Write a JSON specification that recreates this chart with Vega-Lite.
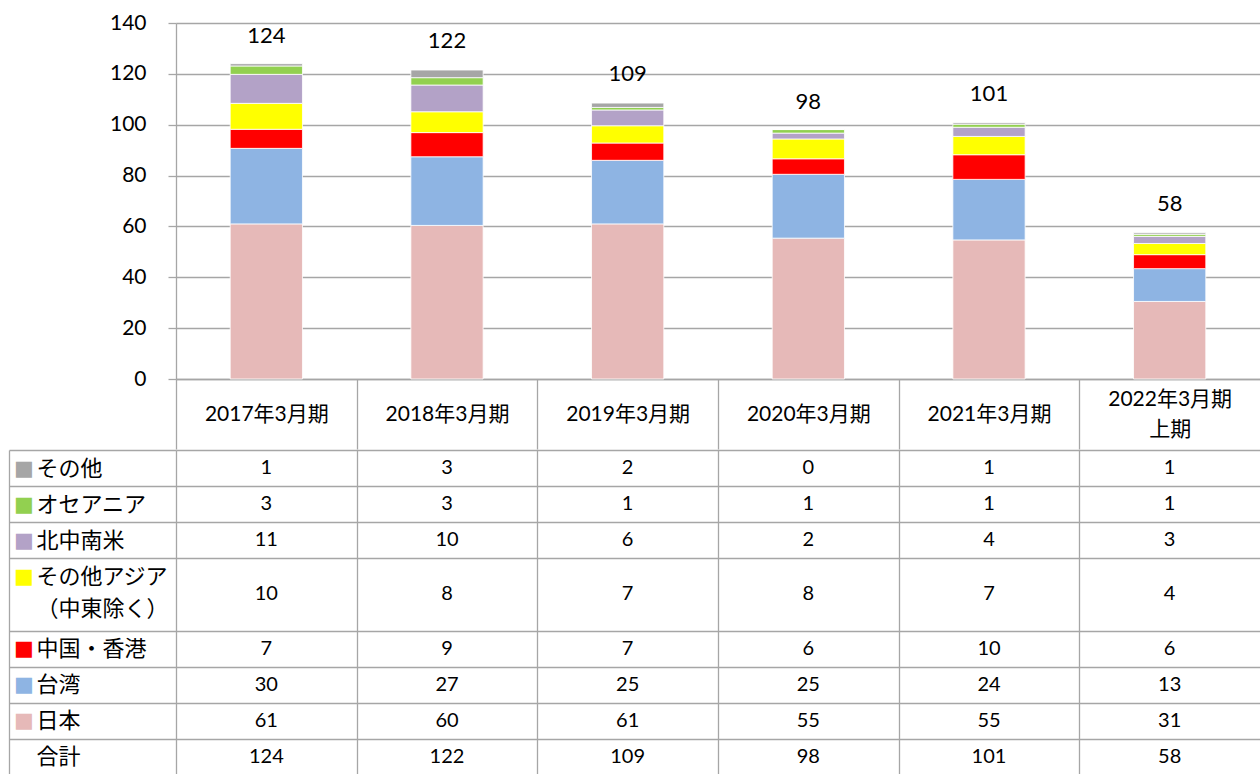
{
  "$schema": "https://vega.github.io/schema/vega-lite/v6.json",
  "background": "white",
  "padding": {"left": 8, "top": 12, "right": 0, "bottom": 0},
  "config": {
    "view": {"stroke": null},
    "axis": {
      "labelColor": "#000000",
      "labelFont": "Lato, Noto Sans CJK JP",
      "domainColor": "#a6a6a6",
      "tickColor": "#a6a6a6",
      "gridColor": "#a6a6a6",
      "domainWidth": 1.3,
      "tickWidth": 1.3,
      "gridWidth": 1.3
    },
    "text": {"font": "Lato, Noto Sans CJK JP", "fontSize": 20, "color": "#000000"}
  },
  "datasets": {
    "seg": [
      {"period": "2017年3月期", "region": "日本", "ord": 1, "bar": 61.0, "shown": 61},
      {"period": "2017年3月期", "region": "台湾", "ord": 2, "bar": 29.7, "shown": 30},
      {"period": "2017年3月期", "region": "中国・香港", "ord": 3, "bar": 7.5, "shown": 7},
      {"period": "2017年3月期", "region": "その他アジア", "ord": 4, "bar": 10.2, "shown": 10},
      {"period": "2017年3月期", "region": "北中南米", "ord": 5, "bar": 11.4, "shown": 11},
      {"period": "2017年3月期", "region": "オセアニア", "ord": 6, "bar": 3.3, "shown": 3},
      {"period": "2017年3月期", "region": "その他", "ord": 7, "bar": 0.9, "shown": 1},
      {"period": "2018年3月期", "region": "日本", "ord": 1, "bar": 60.4, "shown": 60},
      {"period": "2018年3月期", "region": "台湾", "ord": 2, "bar": 27.0, "shown": 27},
      {"period": "2018年3月期", "region": "中国・香港", "ord": 3, "bar": 9.5, "shown": 9},
      {"period": "2018年3月期", "region": "その他アジア", "ord": 4, "bar": 8.2, "shown": 8},
      {"period": "2018年3月期", "region": "北中南米", "ord": 5, "bar": 10.5, "shown": 10},
      {"period": "2018年3月期", "region": "オセアニア", "ord": 6, "bar": 2.9, "shown": 3},
      {"period": "2018年3月期", "region": "その他", "ord": 7, "bar": 3.0, "shown": 3},
      {"period": "2019年3月期", "region": "日本", "ord": 1, "bar": 61.0, "shown": 61},
      {"period": "2019年3月期", "region": "台湾", "ord": 2, "bar": 25.0, "shown": 25},
      {"period": "2019年3月期", "region": "中国・香港", "ord": 3, "bar": 6.8, "shown": 7},
      {"period": "2019年3月期", "region": "その他アジア", "ord": 4, "bar": 6.8, "shown": 7},
      {"period": "2019年3月期", "region": "北中南米", "ord": 5, "bar": 6.2, "shown": 6},
      {"period": "2019年3月期", "region": "オセアニア", "ord": 6, "bar": 1.0, "shown": 1},
      {"period": "2019年3月期", "region": "その他", "ord": 7, "bar": 1.7, "shown": 2},
      {"period": "2020年3月期", "region": "日本", "ord": 1, "bar": 55.4, "shown": 55},
      {"period": "2020年3月期", "region": "台湾", "ord": 2, "bar": 25.1, "shown": 25},
      {"period": "2020年3月期", "region": "中国・香港", "ord": 3, "bar": 6.1, "shown": 6},
      {"period": "2020年3月期", "region": "その他アジア", "ord": 4, "bar": 7.8, "shown": 8},
      {"period": "2020年3月期", "region": "北中南米", "ord": 5, "bar": 2.3, "shown": 2},
      {"period": "2020年3月期", "region": "オセアニア", "ord": 6, "bar": 1.4, "shown": 1},
      {"period": "2020年3月期", "region": "その他", "ord": 7, "bar": 0.0, "shown": 0},
      {"period": "2021年3月期", "region": "日本", "ord": 1, "bar": 54.7, "shown": 55},
      {"period": "2021年3月期", "region": "台湾", "ord": 2, "bar": 23.8, "shown": 24},
      {"period": "2021年3月期", "region": "中国・香港", "ord": 3, "bar": 9.7, "shown": 10},
      {"period": "2021年3月期", "region": "その他アジア", "ord": 4, "bar": 7.2, "shown": 7},
      {"period": "2021年3月期", "region": "北中南米", "ord": 5, "bar": 3.6, "shown": 4},
      {"period": "2021年3月期", "region": "オセアニア", "ord": 6, "bar": 1.2, "shown": 1},
      {"period": "2021年3月期", "region": "その他", "ord": 7, "bar": 0.6, "shown": 1},
      {"period": "2022年3月期上期", "region": "日本", "ord": 1, "bar": 30.5, "shown": 31},
      {"period": "2022年3月期上期", "region": "台湾", "ord": 2, "bar": 12.9, "shown": 13},
      {"period": "2022年3月期上期", "region": "中国・香港", "ord": 3, "bar": 5.5, "shown": 6},
      {"period": "2022年3月期上期", "region": "その他アジア", "ord": 4, "bar": 4.4, "shown": 4},
      {"period": "2022年3月期上期", "region": "北中南米", "ord": 5, "bar": 2.8, "shown": 3},
      {"period": "2022年3月期上期", "region": "オセアニア", "ord": 6, "bar": 0.8, "shown": 1},
      {"period": "2022年3月期上期", "region": "その他", "ord": 7, "bar": 0.6, "shown": 1}
    ],
    "tot": [
      {"period": "2017年3月期", "total": 124},
      {"period": "2018年3月期", "total": 122},
      {"period": "2019年3月期", "total": 109},
      {"period": "2020年3月期", "total": 98},
      {"period": "2021年3月期", "total": 101},
      {"period": "2022年3月期上期", "total": 58}
    ]
  },
  "spacing": -14,
  "resolve": {"scale": {"x": "independent", "y": "independent"}},
  "vconcat": [
    {
      "width": 1084,
      "height": 356,
      "layer": [
        {
          "data": {"name": "seg"},
          "mark": {"type": "bar", "width": {"band": 0.4}, "stroke": "#ffffff", "strokeWidth": 0.8},
          "encoding": {
            "x": {
              "field": "period", "type": "nominal", "sort": null,
              "scale": {"domain": ["2017年3月期", "2018年3月期", "2019年3月期", "2020年3月期", "2021年3月期", "2022年3月期上期"], "paddingInner": 0, "paddingOuter": 0},
              "axis": {
                "title": null, "orient": "bottom", "grid": false,
                "tickSize": 70, "tickOffset": -90.33, "labelOffset": 90.33,
                "labelAngle": 0, "labelPadding": -35,
                "labelBaseline": {"condition": {"test": "datum.value === '2022年3月期上期'", "value": "line-bottom"}, "value": "middle"},
                "labelFontSize": 21, "labelLineHeight": 30,
                "labelExpr": "datum.value === '2022年3月期上期' ? ['2022年3月期', '上期'] : datum.label",
                "labelOverlap": false, "minExtent": 70, "maxExtent": 70
              }
            },
            "y": {
              "field": "bar", "type": "quantitative", "stack": "zero",
              "scale": {"domain": [0, 140], "nice": false},
              "axis": {
                "title": null, "values": [0, 20, 40, 60, 80, 100, 120, 140],
                "tickSize": 8, "grid": true, "labelFontSize": 21, "labelPadding": 22,
                "minExtent": 167, "maxExtent": 167
              }
            },
            "color": {
              "field": "region", "type": "nominal", "legend": null,
              "scale": {
                "domain": ["日本", "台湾", "中国・香港", "その他アジア", "北中南米", "オセアニア", "その他"],
                "range": ["#e6b9b8", "#8eb4e3", "#ff0000", "#ffff00", "#b3a2c7", "#92d050", "#a6a6a6"]
              }
            },
            "order": {"field": "ord", "type": "quantitative", "sort": "ascending"}
          }
        },
        {
          "data": {"name": "tot"},
          "mark": {"type": "text", "dy": -28, "fontSize": 22},
          "encoding": {
            "x": {"field": "period", "type": "nominal", "sort": null},
            "y": {"field": "total", "type": "quantitative"},
            "text": {"field": "total", "type": "quantitative"}
          }
        }
      ]
    },
    {
      "width": 1084,
      "height": 325,
      "resolve": {"axis": {"y": "independent"}},
      "layer": [
        {
          "data": {"name": "seg"},
          "transform": [{"filter": "datum.region !== 'その他アジア'"}],
          "mark": {"type": "text"},
          "encoding": {
            "x": {
              "field": "period", "type": "nominal", "sort": null,
              "scale": {"domain": ["2017年3月期", "2018年3月期", "2019年3月期", "2020年3月期", "2021年3月期", "2022年3月期上期"], "paddingInner": 0, "paddingOuter": 0},
              "axis": {
                "orient": "top", "title": null, "labels": false, "ticks": false, "domain": false,
                "grid": true, "tickOffset": -90.33, "minExtent": 0, "maxExtent": 0
              }
            },
            "y": {
              "field": "region", "type": "nominal",
              "scale": {"domain": ["その他", "オセアニア", "北中南米", "その他アジア", "（中東除く）", "中国・香港", "台湾", "日本", "合計"], "paddingInner": 0, "paddingOuter": 0},
              "axis": {
                "orient": "left", "title": null, "tickSize": 167,
                "tickOffset": -18.06, "labelOffset": 18.06,
                "values": ["その他", "オセアニア", "北中南米", "その他アジア", "中国・香港", "台湾", "日本", "合計"],
                "domain": false, "grid": true,
                "labelExpr": "datum.value === 'その他アジア' ? ['その他アジア', '（中東除く）'] : datum.label",
                "labelLineHeight": 32,
                "labelAlign": "left", "labelBaseline": "middle", "labelPadding": -27,
                "labelFont": "Noto Sans CJK JP", "labelFontSize": 22,
                "labelOverlap": false, "labelBound": false, "labelLimit": 200
              }
            },
            "text": {"field": "shown", "type": "quantitative"}
          }
        },
        {
          "data": {"name": "seg"},
          "transform": [{"filter": "datum.region === 'その他アジア'"}],
          "mark": {"type": "text", "dy": 18},
          "encoding": {
            "x": {"field": "period", "type": "nominal", "sort": null},
            "y": {
              "field": "region", "type": "nominal",
              "axis": {
                "orient": "left", "title": null, "offset": 167,
                "values": ["その他", "オセアニア", "北中南米", "その他アジア", "中国・香港", "台湾", "日本"],
                "ticks": false, "tickSize": 0, "grid": false, "domain": true,
                "labelExpr": "'■'", "labelAlign": "center", "labelBaseline": "middle", "labelPadding": -14.5,
                "labelFont": "DejaVu Sans", "labelFontSize": 21,
                "labelOverlap": false, "labelBound": false,
                "labelColor": {
                  "condition": [
                    {"test": "datum.value === 'その他'", "value": "#a6a6a6"},
                    {"test": "datum.value === 'オセアニア'", "value": "#92d050"},
                    {"test": "datum.value === '北中南米'", "value": "#b3a2c7"},
                    {"test": "datum.value === 'その他アジア'", "value": "#ffff00"},
                    {"test": "datum.value === '中国・香港'", "value": "#ff0000"},
                    {"test": "datum.value === '台湾'", "value": "#8eb4e3"}
                  ],
                  "value": "#e6b9b8"
                }
              }
            },
            "text": {"field": "shown", "type": "quantitative"}
          }
        },
        {
          "data": {"name": "tot"},
          "mark": {"type": "text"},
          "encoding": {
            "x": {"field": "period", "type": "nominal", "sort": null},
            "y": {"datum": "合計", "type": "nominal", "axis": null},
            "text": {"field": "total", "type": "quantitative"}
          }
        }
      ]
    }
  ]
}
